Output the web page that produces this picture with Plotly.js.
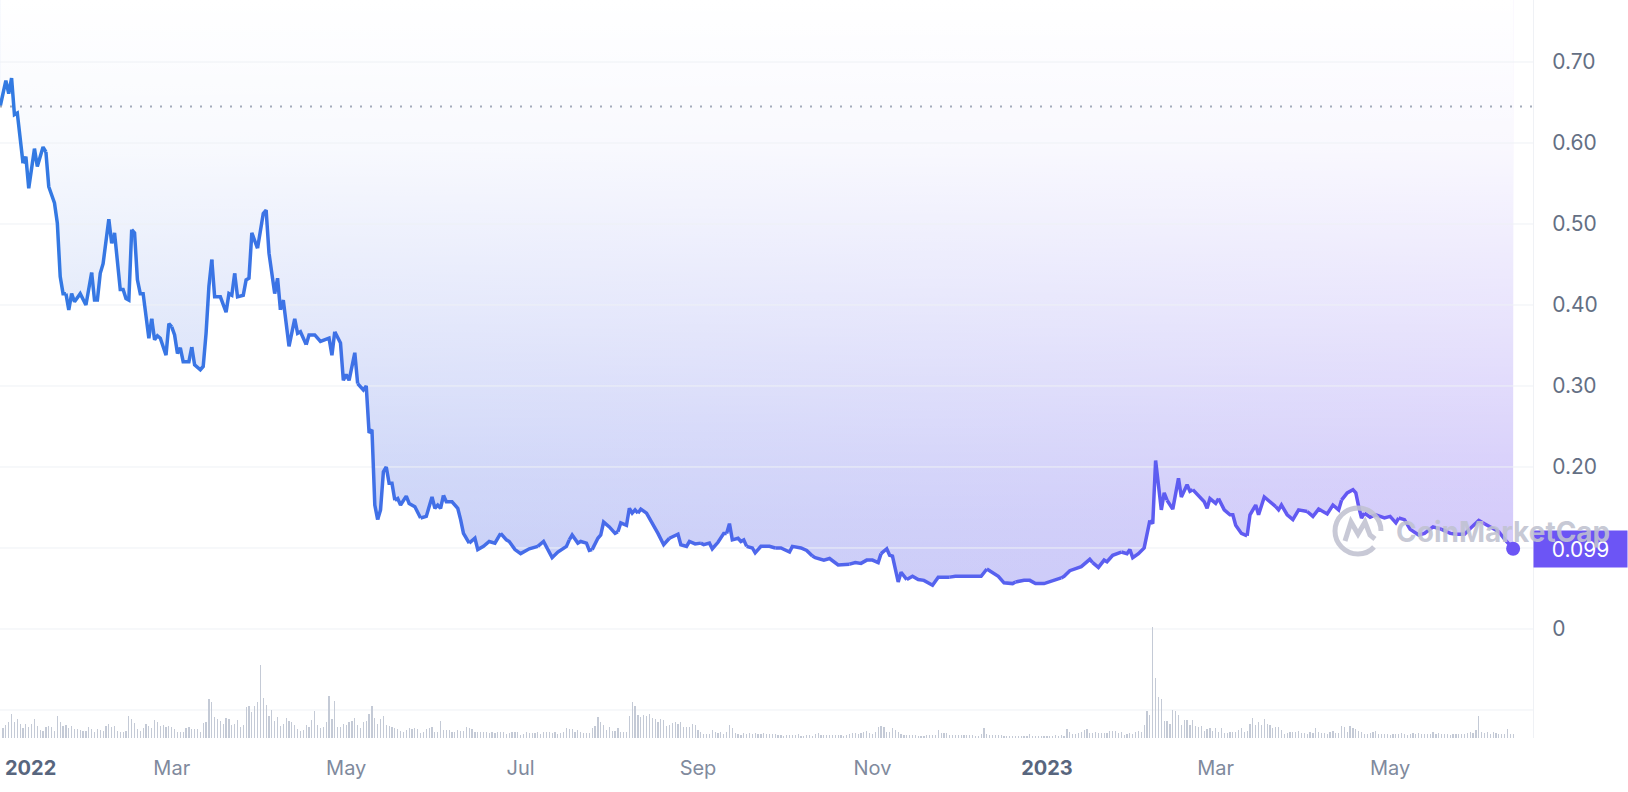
<!DOCTYPE html>
<html><head><meta charset="utf-8">
<script src="https://cdn.plot.ly/plotly-3.0.1.min.js"></script>
<style>html,body{margin:0;padding:0;background:#fff;} #chart{width:1628px;height:792px;}</style>
</head><body><div id="chart"></div>
<script>
// ---------------- DATA ----------------
const priceDates = [
'2021-12-31','2022-01-02','2022-01-03','2022-01-04','2022-01-05','2022-01-06','2022-01-08','2022-01-09','2022-01-10','2022-01-12',
'2022-01-13','2022-01-15','2022-01-16','2022-01-17','2022-01-19','2022-01-20','2022-01-21','2022-01-22','2022-01-23','2022-01-24',
'2022-01-25','2022-01-26','2022-01-28','2022-01-30','2022-02-01','2022-02-02','2022-02-03','2022-02-04','2022-02-05','2022-02-07',
'2022-02-08','2022-02-09','2022-02-11','2022-02-12','2022-02-13','2022-02-14','2022-02-15','2022-02-16','2022-02-17','2022-02-18',
'2022-02-19','2022-02-21','2022-02-22','2022-02-23','2022-02-24','2022-02-25','2022-02-27','2022-02-28','2022-03-01','2022-03-02',
'2022-03-03','2022-03-04','2022-03-05','2022-03-07','2022-03-08','2022-03-09','2022-03-11','2022-03-12','2022-03-13','2022-03-14',
'2022-03-15','2022-03-16','2022-03-18','2022-03-20','2022-03-21','2022-03-22','2022-03-23','2022-03-24','2022-03-26','2022-03-27',
'2022-03-28','2022-03-29','2022-03-31','2022-04-02','2022-04-03','2022-04-04','2022-04-06','2022-04-07','2022-04-08','2022-04-09',
'2022-04-11','2022-04-13','2022-04-14','2022-04-15','2022-04-17','2022-04-18','2022-04-20','2022-04-22','2022-04-25','2022-04-26',
'2022-04-27','2022-04-29','2022-04-30','2022-05-01','2022-05-02','2022-05-04','2022-05-05','2022-05-07','2022-05-08','2022-05-09',
'2022-05-10','2022-05-11','2022-05-12','2022-05-13','2022-05-14','2022-05-15','2022-05-16','2022-05-17','2022-05-18','2022-05-19',
'2022-05-20','2022-05-22','2022-05-23','2022-05-25','2022-05-27','2022-05-29','2022-05-31','2022-06-01','2022-06-02','2022-06-03',
'2022-06-04','2022-06-05','2022-06-07','2022-06-09','2022-06-10','2022-06-11','2022-06-13','2022-06-15','2022-06-16','2022-06-18',
'2022-06-20','2022-06-22','2022-06-24','2022-06-26','2022-06-27','2022-06-29','2022-07-01','2022-07-04','2022-07-07','2022-07-08',
'2022-07-09','2022-07-12','2022-07-14','2022-07-17','2022-07-18','2022-07-19','2022-07-21','2022-07-22','2022-07-24','2022-07-25',
'2022-07-26','2022-07-28','2022-07-29','2022-07-30','2022-08-01','2022-08-03','2022-08-04','2022-08-05','2022-08-07','2022-08-08',
'2022-08-09','2022-08-10','2022-08-11','2022-08-12','2022-08-14','2022-08-16','2022-08-18','2022-08-20','2022-08-22','2022-08-25',
'2022-08-26','2022-08-28','2022-08-29','2022-08-31','2022-09-02','2022-09-03','2022-09-05','2022-09-06','2022-09-08','2022-09-10',
'2022-09-11','2022-09-12','2022-09-13','2022-09-15','2022-09-16','2022-09-17','2022-09-18','2022-09-20','2022-09-21','2022-09-23',
'2022-09-24','2022-09-26','2022-09-28','2022-09-30','2022-10-03','2022-10-04','2022-10-07','2022-10-09','2022-10-11','2022-10-12',
'2022-10-15','2022-10-17','2022-10-20','2022-10-22','2022-10-24','2022-10-26','2022-10-28','2022-10-30','2022-11-01','2022-11-03',
'2022-11-04','2022-11-06','2022-11-07','2022-11-08','2022-11-10','2022-11-11','2022-11-13','2022-11-15','2022-11-17','2022-11-19',
'2022-11-22','2022-11-24','2022-11-28','2022-11-30','2022-12-03','2022-12-05','2022-12-07','2022-12-09','2022-12-11','2022-12-13',
'2022-12-15','2022-12-17','2022-12-18','2022-12-20','2022-12-21','2022-12-24','2022-12-26','2022-12-28','2022-12-31','2023-01-03',
'2023-01-06','2023-01-07','2023-01-09','2023-01-11','2023-01-13','2023-01-16','2023-01-17','2023-01-19','2023-01-21','2023-01-22',
'2023-01-24','2023-01-26','2023-01-27','2023-01-29','2023-01-30','2023-01-31','2023-02-02','2023-02-04','2023-02-06','2023-02-07',
'2023-02-08','2023-02-09','2023-02-10','2023-02-11','2023-02-12','2023-02-14','2023-02-16','2023-02-17','2023-02-19','2023-02-20',
'2023-02-21','2023-02-23','2023-02-25','2023-02-26','2023-02-27','2023-03-01','2023-03-02','2023-03-04','2023-03-06','2023-03-07',
'2023-03-08','2023-03-10','2023-03-12','2023-03-13','2023-03-15','2023-03-16','2023-03-18','2023-03-20','2023-03-22','2023-03-23',
'2023-03-24','2023-03-26','2023-03-28','2023-03-30','2023-04-02','2023-04-04','2023-04-06','2023-04-09','2023-04-11','2023-04-13',
'2023-04-14','2023-04-16','2023-04-18','2023-04-19','2023-04-20','2023-04-21','2023-04-22','2023-04-24','2023-04-26','2023-04-29',
'2023-05-01','2023-05-03','2023-05-04','2023-05-06','2023-05-08','2023-05-11','2023-05-13','2023-05-16','2023-05-19','2023-05-22',
'2023-05-24','2023-05-27','2023-05-29','2023-06-01','2023-06-03','2023-06-05','2023-06-08','2023-06-10','2023-06-13'
];
const prices = [
0.645,0.677,0.661,0.680,0.635,0.637,0.575,0.583,0.544,0.593,
0.571,0.595,0.589,0.546,0.526,0.501,0.435,0.414,0.414,0.394,
0.414,0.404,0.414,0.400,0.440,0.406,0.406,0.439,0.451,0.506,
0.476,0.489,0.419,0.419,0.408,0.406,0.493,0.489,0.431,0.414,
0.414,0.359,0.383,0.357,0.362,0.359,0.338,0.377,0.373,0.363,
0.340,0.347,0.330,0.330,0.348,0.326,0.320,0.324,0.365,0.423,
0.456,0.410,0.410,0.391,0.414,0.412,0.439,0.410,0.412,0.431,
0.433,0.489,0.470,0.513,0.517,0.464,0.414,0.433,0.394,0.406,
0.349,0.383,0.365,0.367,0.351,0.363,0.363,0.355,0.359,0.338,
0.367,0.353,0.307,0.314,0.307,0.341,0.303,0.295,0.300,0.242,
0.246,0.153,0.135,0.147,0.194,0.200,0.180,0.180,0.159,0.161,
0.153,0.164,0.155,0.151,0.137,0.139,0.163,0.149,0.153,0.149,
0.165,0.157,0.157,0.149,0.135,0.118,0.106,0.112,0.098,0.102,
0.108,0.106,0.118,0.110,0.108,0.098,0.093,0.099,0.102,0.105,
0.108,0.088,0.095,0.102,0.110,0.116,0.106,0.108,0.106,0.097,
0.098,0.112,0.116,0.132,0.126,0.118,0.120,0.131,0.128,0.149,
0.143,0.147,0.143,0.148,0.143,0.131,0.118,0.104,0.112,0.117,
0.104,0.102,0.108,0.105,0.106,0.104,0.106,0.099,0.107,0.118,
0.118,0.130,0.110,0.112,0.108,0.110,0.102,0.100,0.094,0.102,
0.102,0.102,0.100,0.100,0.095,0.102,0.100,0.097,0.090,0.088,
0.085,0.087,0.079,0.079,0.080,0.082,0.081,0.085,0.085,0.082,
0.093,0.099,0.091,0.090,0.058,0.070,0.061,0.065,0.061,0.060,
0.054,0.064,0.064,0.065,0.065,0.065,0.064,0.065,0.074,0.070,
0.065,0.057,0.057,0.056,0.058,0.060,0.060,0.056,0.056,0.060,
0.063,0.065,0.072,0.075,0.077,0.086,0.082,0.076,0.085,0.083,
0.091,0.093,0.095,0.093,0.098,0.088,0.093,0.100,0.134,0.130,
0.208,0.180,0.147,0.168,0.159,0.148,0.186,0.163,0.178,0.170,
0.172,0.165,0.157,0.149,0.161,0.155,0.161,0.147,0.141,0.141,
0.128,0.118,0.115,0.141,0.153,0.141,0.163,0.157,0.151,0.147,
0.153,0.141,0.135,0.147,0.145,0.139,0.148,0.142,0.153,0.147,
0.159,0.168,0.172,0.168,0.151,0.137,0.143,0.138,0.141,0.137,
0.139,0.131,0.137,0.135,0.123,0.116,0.118,0.126,0.123,0.118,
0.117,0.117,0.124,0.134,0.130,0.126,0.120,0.111,0.099
];
// daily trading volume (relative units), one value per day from volumeStart
const volumeStart = '2022-01-01';
const volume = [
10,13,16,24,16,19,14,10,14,11, 14,19,12,8,7,11,12,11,7,22,
16,12,13,10,12,9,9,8,7,7, 11,9,6,9,8,7,12,14,11,12,
7,6,6,7,22,19,15,9,7,10, 14,12,10,18,16,12,13,11,12,11,
9,6,6,6,10,11,9,9,9,6, 15,16,39,36,21,19,17,14,20,19,
13,14,18,11,13,31,32,26,32,36, 73,40,33,22,28,17,21,12,14,20,
17,16,13,9,7,8,13,11,18,27, 13,10,11,16,42,19,37,11,11,14,
13,16,17,20,13,10,16,17,24,32, 20,14,19,22,13,12,11,10,9,7,
6,8,10,9,10,9,5,6,9,10, 11,6,6,17,8,8,8,6,6,8,
7,7,11,10,9,6,6,6,6,6, 5,6,5,6,6,6,4,5,6,6,
6,3,4,6,5,5,5,6,4,6, 6,6,5,6,4,5,6,10,9,9,
6,8,6,5,5,5,10,12,21,16, 13,8,11,7,7,10,6,6,6,22,
36,32,23,21,23,22,24,20,19,16, 19,18,12,13,15,16,14,16,11,11,
11,14,13,8,6,4,4,4,8,6, 5,6,4,6,13,10,5,4,3,5,
4,5,4,5,4,4,5,4,
4,4,4,3,3,2,3,3,3,3,4, 2,2,3,3,2,4,5,3,3,3,
3,3,3,3,3,2,3,4,5,5, 4,5,6,7,5,4,6,11,12,11,
6,6,10,8,6,4,3,3,3,3, 3,2,2,2,3,3,3,3,8,5,5,
5,3,3,3,3,3,3,3,3,3, 2,2,4,10,4,3,3,3,3,3,
2,2,2,2,2,2,2,2,2,4, 2,2,2,2,2,2,2,2,3,2,
3,2,9,6,4,4,5,6,8,9, 5,5,6,5,5,5,5,7,7,7,
5,6,3,4,5,4,6,7,6,13, 27,23,111,60,41,39,17,17,14,28,
27,23,13,18,18,13,18,12,11,12, 7,9,10,7,10,6,10,5,5,6,
6,6,8,10,6,7,14,20,13,16, 13,19,14,13,10,11,11,8,4,5,
6,6,6,7,5,5,4,6,5,10, 6,5,5,4,6,7,5,5,12,11,
6,12,10,9,7,6,4,4,5,6, 7,4,4,4,4,3,4,4,4,5,4,
3,4,5,4,5,4,4,4,4,6, 4,5,4,4,4,3,4,4,4,4,
4,5,6,5,8,22,6,5,6,4, 6,5,4,4,4,9,4,4
];
const refPrice = 0.645;           // dotted reference (opening) price
const yTickVals = [-0.1, 0, 0.1, 0.2, 0.3, 0.4, 0.5, 0.6, 0.7];
const yTickText = ['', '0', '0.10', '0.20', '0.30', '0.40', '0.50', '0.60', '0.70'];
const xTickVals = ['2022-03-01','2022-05-01','2022-07-01','2022-09-01','2022-11-01','2023-01-01','2023-03-01','2023-05-01'];
const xTickText = ['Mar','May','Jul','Sep','Nov','2023','Mar','May'];
const firstTickDate = '2022-01-01';
const firstTickText = '2022';

// ---------------- STYLE ----------------
const X_RANGE = ['2021-12-30 22:50', '2023-06-19 22:50'];
const Y_RANGE = [-0.1346, 0.7765];
const FILL_TOP = 0.7765;
const VOL_AXIS_MAX = 738;
const LINE_START = [50, 122, 226];
const LINE_END = [106, 84, 245];
const GRID_COLOR = '#eff1f5';
const MONTH_COLOR = '#808a9d';
const YEAR_COLOR = '#58667e';
const ACCENT = '#6c55f5';
const WM_COLOR = 'rgba(192,194,208,0.88)';

function lerpColor(a, b, t) {
  return 'rgb(' + a.map((v, i) => Math.round(v + (b[i] - v) * t)).join(',') + ')';
}

const volDates = volume.map((_, i) => new Date(Date.parse(volumeStart + 'T00:00:00Z') + i * 86400000).toISOString().slice(0, 10));
const n = prices.length;
const polyX = priceDates.concat([priceDates[n - 1], priceDates[0]]);
const polyY = prices.concat([FILL_TOP, FILL_TOP]);

const traces = [];
// colour fill above the price line (blue -> purple)
traces.push({
  type: 'scatter', mode: 'none', x: polyX, y: polyY, fill: 'toself',
  fillgradient: { type: 'horizontal', colorscale: [[0, 'rgb(196,212,246)'], [1, 'rgb(209,199,250)']] },
  hoverinfo: 'skip', showlegend: false
});
// white vertical fade over it
traces.push({
  type: 'scatter', mode: 'none', x: polyX, y: polyY, fill: 'toself',
  fillgradient: { type: 'vertical', start: 0, stop: FILL_TOP,
    colorscale: [[0, 'rgba(255,255,255,0)'], [0.13, 'rgba(255,255,255,0.04)'], [0.26, 'rgba(255,255,255,0.18)'],
                 [0.52, 'rgba(255,255,255,0.55)'], [0.77, 'rgba(255,255,255,0.88)'], [1, 'rgba(255,255,255,1)']] },
  hoverinfo: 'skip', showlegend: false
});
// grid lines
yTickVals.forEach(v => traces.push({
  type: 'scatter', mode: 'lines', x: X_RANGE, y: [v, v], line: { color: GRID_COLOR, width: 1 },
  hoverinfo: 'skip', showlegend: false
}));
// price line in gradient segments
const t0 = Date.parse(priceDates[0]), t1 = Date.parse(priceDates[n - 1]);
const SEG = 6;
for (let i = 0; i < n - 1; i += SEG) {
  const j = Math.min(i + SEG, n - 1);
  const t = ((Date.parse(priceDates[i]) + Date.parse(priceDates[j])) / 2 - t0) / (t1 - t0);
  traces.push({
    type: 'scatter', mode: 'lines', x: priceDates.slice(i, j + 1), y: prices.slice(i, j + 1),
    line: { color: lerpColor(LINE_START, LINE_END, t), width: 3.5 }, hoverinfo: 'skip', showlegend: false
  });
}
// last point
traces.push({
  type: 'scatter', mode: 'markers', x: [priceDates[n - 1]], y: [prices[n - 1]],
  marker: { size: 14, color: ACCENT }, hoverinfo: 'skip', showlegend: false
});
// volume
traces.push({
  type: 'bar', x: volDates, y: volume, yaxis: 'y2', width: 86400000 * 0.42,
  marker: { color: '#c4cad6', line: { width: 0 } }, hoverinfo: 'skip', showlegend: false
});

const tickText = xTickText.map(t => /^\d{4}$/.test(t) ? '<b><span style="color:' + YEAR_COLOR + '">' + t + '</span></b>' : t);

const layout = {
  width: 1628, height: 792,
  margin: { l: 0, r: 95, t: 0, b: 54, pad: 0 },
  paper_bgcolor: '#ffffff', plot_bgcolor: '#ffffff',
  font: { family: 'Inter, "Noto Sans", sans-serif', color: MONTH_COLOR },
  showlegend: false, hovermode: false, bargap: 0,
  xaxis: {
    type: 'date', range: X_RANGE, showgrid: false, zeroline: false, showline: false,
    tickmode: 'array', tickvals: xTickVals, ticktext: tickText, ticks: '',
    tickfont: { size: 20, color: MONTH_COLOR, family: 'Inter' }, ticklabelstandoff: 16
  },
  yaxis: {
    range: Y_RANGE, side: 'right', showgrid: false, zeroline: false,
    showline: true, linecolor: GRID_COLOR, linewidth: 1,
    tickmode: 'array', tickvals: yTickVals, ticktext: yTickText, ticks: '',
    tickfont: { size: 21, color: '#646f84', family: 'Inter' }, ticklabelstandoff: 14
  },
  yaxis2: { overlaying: 'y', range: [0, VOL_AXIS_MAX], visible: false, fixedrange: true },
  shapes: [
    { type: 'line', xref: 'paper', x0: 0, x1: 1, yref: 'y', y0: refPrice, y1: refPrice,
      line: { color: '#a3abba', width: 2, dash: '2px,8px' }, layer: 'above' },
    { type: 'path', xref: 'paper', yref: 'paper', xsizemode: 'pixel', ysizemode: 'pixel',
      xanchor: 1358 / 1533, yanchor: (738 - 531) / 738,
      path: 'M 23,0 C 23,12.7 12.7,23 0,23 C -12.7,23 -23,12.7 -23,0 C -23,-12.7 -12.7,-23 0,-23 C 7,-23 12.5,-20 16,-16 M -13,-10 L -7,9 L 0,-3 L 7,9 L 12,-4 L 17,-8',
      line: { color: WM_COLOR, width: 5 }, fillcolor: 'rgba(0,0,0,0)', layer: 'above' }
  ],
  annotations: [
    { x: firstTickDate, xref: 'x', xanchor: 'left', y: 0, yref: 'paper', yanchor: 'middle', yshift: -30,
      text: '<b>' + firstTickText + '</b>', showarrow: false, font: { size: 20, color: YEAR_COLOR, family: 'Inter' } },
    { x: 1, xref: 'paper', xanchor: 'left', y: prices[n - 1], yref: 'y', yanchor: 'middle',
      text: prices[n - 1].toFixed(3), showarrow: false, bgcolor: ACCENT, width: 93, height: 36, borderpad: 0,
      align: 'center', valign: 'middle', font: { size: 21, color: '#ffffff', family: 'Inter' } },
    { x: 1394 / 1533, xref: 'paper', xanchor: 'left', y: (738 - 532) / 738, yref: 'paper', yanchor: 'middle',
      text: '<b>CoinMarketCap</b>', showarrow: false, font: { size: 28, color: WM_COLOR, family: 'Inter' } }
  ]
};

Plotly.newPlot('chart', traces, layout, { displayModeBar: false, staticPlot: true });
</script></body></html>
